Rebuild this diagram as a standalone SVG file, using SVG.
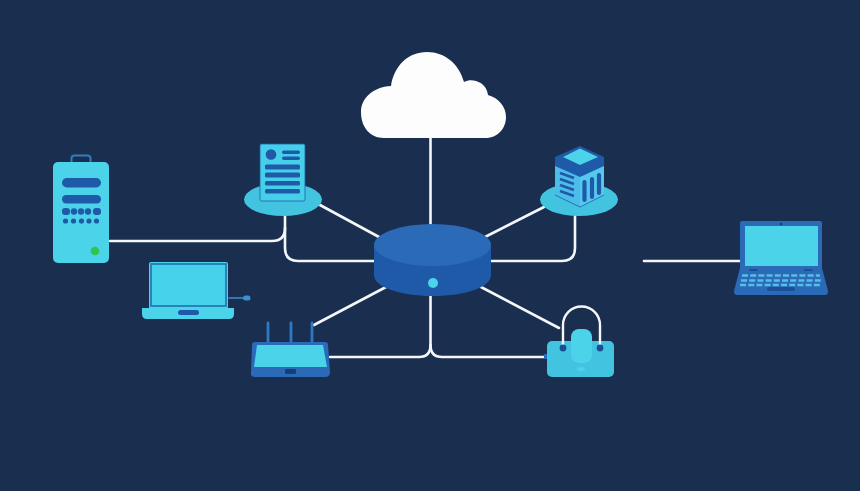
<svg xmlns="http://www.w3.org/2000/svg" width="860" height="491" viewBox="0 0 860 491">
<style>
.cy{fill:#4bd3ea}
.tl{fill:#42c3e0}
.bl{fill:#2a6ab6}
.dk{fill:#1f5aa8}
.wire{fill:none;stroke:#f4f7fa;stroke-width:2.6;stroke-linecap:round;stroke-linejoin:round}
.dkl{fill:none;stroke:#1f5aa8;stroke-linecap:round}
</style>
<rect width="860" height="491" fill="#1a2e50"/>
<g id="connectors" class="wire">
<path d="M430.500 138V224"/>
<path d="M110 241H272Q285 241 285 228"/>
<path d="M285 216V248Q285 261 298 261H374"/>
<path d="M320 205L379 237"/>
<path d="M544 207L485 237"/>
<path d="M575 216V248Q575 261 562 261H491"/>
<path d="M430.500 296V345Q430.500 357 419 357H330"/>
<path d="M430.500 345Q430.500 357 442 357H544"/>
<path d="M386 287L314 325"/>
<path d="M481 287L559 328"/>
<path d="M644 261H740"/>
</g>
<g id="cloud">
<path fill="#fdfdfd" d="M384 138C370 138 361 127 361 112C361 98 373 87 391 86C394 66 408 52 427 52C445 52 459 64 464 82C468 80 472 80 476 81C483 83 487 88 488 95C499 98 506 107 506 117C506 129 497 138 486 138Z"/>
</g>
<g id="hub">
<path class="dk" d="M374 245V275C374 287 400 296 433 296C466 296 491 287 491 275V245Z"/>
<ellipse class="bl" cx="432.500" cy="245" rx="58.500" ry="21"/>
<circle class="cy" cx="433" cy="283" r="5"/>
</g>
<g id="server">
<rect x="71.500" y="155.500" width="19" height="10" rx="3" fill="none" stroke="#2f7fc0" stroke-width="2"/>
<rect class="cy" x="53" y="162" width="56" height="101" rx="5"/>
<rect class="dk" x="62" y="178" width="39" height="9.500" rx="4.700"/>
<rect class="dk" x="62" y="195" width="39" height="8.500" rx="4.200"/>
<rect class="dk" x="62" y="208" width="8" height="7" rx="3"/>
<rect class="dk" x="93" y="208" width="8" height="7" rx="3"/>
<g class="dk"><circle cx="74" cy="211.500" r="3.200"/><circle cx="81" cy="211.500" r="3.200"/><circle cx="88" cy="211.500" r="3.200"/>
<circle cx="65.500" cy="221" r="2.600"/><circle cx="73.500" cy="221" r="2.600"/><circle cx="81.500" cy="221" r="2.600"/><circle cx="89" cy="221" r="2.600"/><circle cx="96.500" cy="221" r="2.600"/></g>
<circle cx="95" cy="251" r="4.300" fill="#2fc44e"/>
</g>
<g id="laptop-left">
<path d="M229 298H243" class="dkl" stroke-width="1.500" style="stroke:#3a8fcf"/>
<rect x="243" y="295.500" width="7.500" height="5" rx="2.500" fill="#3a8fcf"/>
<rect class="cy" x="149" y="262" width="79" height="47" rx="2"/>
<rect x="151" y="264" width="75" height="42" fill="#46d2ea" stroke="#2170b0" stroke-width="1.600"/>
<path class="cy" d="M142 308H234V314Q234 319 229 319H147Q142 319 142 314Z"/>
<rect class="dk" x="178" y="310" width="21" height="5" rx="2.500"/>
</g>
<g id="document">
<ellipse class="tl" cx="283" cy="199.500" rx="39" ry="16.500"/>
<rect x="260" y="144" width="45" height="57" rx="1.500" fill="#46cfe8" stroke="#1f5aa8" stroke-width="0.800"/>
<circle class="dk" cx="271" cy="154.500" r="5.300"/>
<rect class="dk" x="282" y="150.500" width="18" height="3.500" rx="1.700"/>
<rect class="dk" x="282" y="156.500" width="18" height="3.500" rx="1.700"/>
<rect class="dk" x="265" y="164.500" width="35" height="5" rx="1.500"/>
<rect class="dk" x="265" y="172.500" width="35" height="5" rx="1.500"/>
<rect class="dk" x="265" y="181" width="35" height="4.500" rx="1.500"/>
<rect class="dk" x="265" y="189" width="35" height="4.500" rx="1.500"/>
</g>
<g id="building">
<ellipse class="tl" cx="579" cy="199.500" rx="39" ry="16.500"/>
<path fill="#4cbde8" d="M555 164L580 176V207L555 195Z"/>
<path fill="#55c8ee" d="M604 164L580 176V207L604 195Z"/>
<path d="M555 195L580 207L604 195" fill="none" stroke="#1f5aa8" stroke-width="0.800"/>
<path class="dk" d="M580 146L604 157V166L580 177L555 166V157Z"/>
<path class="cy" d="M580 148.500L598 157L580 165L563 157Z"/>
<path fill="none" stroke="#1f5aa8" stroke-width="2.800" d="M560 173L574 178M560 179L574 184M560 185L574 190M560 191L574 196"/>
<path class="dkl" stroke-width="4.200" d="M584.500 182V200M592 179V197M599 175V193"/>
</g>
<g id="router">
<path d="M268 323V342M291 323V342M312 323V342" fill="none" stroke="#2f79c0" stroke-width="2.800" stroke-linecap="round"/>
<path class="bl" d="M255 342H325Q328 342 328 345L330 372Q330 377 325 377H255Q250 377 251 372L252 345Q252 342 255 342Z"/>
<path class="cy" d="M257 345H323L327 367H254Z"/>
<rect x="285" y="369" width="11" height="5" rx="1" fill="#163e78"/>
</g>
<g id="lock">
<rect class="bl" x="544" y="354" width="4" height="5"/>
<rect class="tl" x="547" y="341" width="67" height="36" rx="5"/>
<path fill="none" stroke="#f4f7fa" stroke-width="2.400" d="M563 346V325A18.500 18.500 0 0 1 600 325V346"/>
<circle cx="563" cy="348" r="3.400" fill="#174f95"/>
<circle cx="600" cy="348" r="3.400" fill="#174f95"/>
<rect class="cy" x="571" y="329" width="21" height="34" rx="8"/>
<ellipse class="cy" cx="581" cy="369" rx="4" ry="2"/>
</g>
<g id="laptop-right">
<path class="bl" d="M740 223Q740 221 742 221H820Q822 221 822 223V268L828 291Q828 295 825 295H737Q734 295 734 291L740 268Z"/>
<rect class="cy" x="745" y="226" width="73" height="40"/>
<circle cx="781" cy="224" r="1.200" fill="#173a70"/>
<path class="dkl" stroke-width="1.800" style="stroke:#1b4f98" d="M750 270H757M805 270H812"/>
<g fill="none" stroke="#55bfe6" stroke-width="2.600">
<line x1="742" y1="275.500" x2="820" y2="275.500" stroke-dasharray="6 2.200"/>
<line x1="741" y1="280.500" x2="821" y2="280.500" stroke-dasharray="6 2.200"/>
<line x1="740" y1="285" x2="822" y2="285" stroke-dasharray="6 2.200"/>
</g>
<rect x="767" y="287" width="28" height="4" rx="2" fill="#1b4f98"/>
</g>
</svg>
